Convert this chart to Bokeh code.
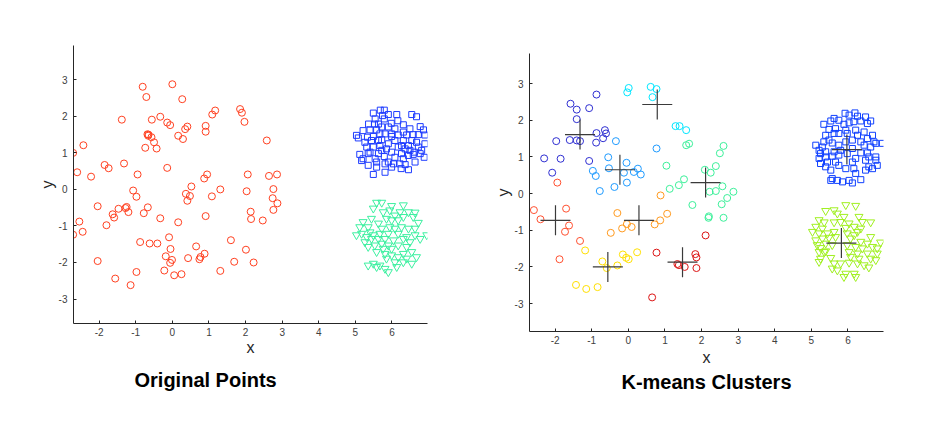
from bokeh.plotting import figure
from bokeh.layouts import row, column
from bokeh.models import Range1d, FixedTicker, Title, Spacer
from bokeh.embed import file_html
from bokeh.resources import INLINE

x_ticks = [-2, -1, 0, 1, 2, 3, 4, 5, 6]
x_tick_labels = ["-2", "-1", "0", "1", "2", "3", "4", "5", "6"]
y_ticks = [-3, -2, -1, 0, 1, 2, 3]
y_tick_labels = ["-3", "-2", "-1", "0", "1", "2", "3"]

# ---------------- left panel: original points ----------------
left_circles = [
    (0.0, 2.88), (-0.81, 2.81), (-0.71, 2.53), (0.27, 2.47), (-1.38, 1.91), (-0.56, 1.91),
    (-0.33, 1.99), (-0.14, 1.83), (-0.06, 1.76), (1.17, 2.16), (1.09, 2.05), (1.85, 2.2),
    (1.9, 2.1), (1.97, 1.85), (0.91, 1.74), (0.91, 1.58), (0.41, 1.72), (0.35, 1.65),
    (0.16, 1.47), (0.29, 1.38), (-0.68, 1.51), (-0.66, 1.47), (-0.65, 1.5), (-0.57, 1.43),
    (-0.5, 1.29), (-0.74, 1.14), (-0.43, 1.12), (2.58, 1.34), (-2.43, 1.21), (-2.71, 1.0),
    (-2.6, 0.47), (-2.22, 0.35), (-1.85, 0.67), (-1.74, 0.58), (-1.32, 0.71), (-0.95, 0.41),
    (-0.14, 0.59), (-1.07, -0.03), (-0.98, -0.2), (0.52, 0.08), (0.37, -0.12), (0.48, -0.18),
    (0.41, -0.31), (0.95, 0.41), (0.87, 0.3), (1.08, -0.19), (1.31, 0.0), (2.06, 0.41),
    (2.03, -0.05), (2.64, 0.37), (2.86, 0.41), (2.76, 0.01), (2.74, -0.24), (2.87, -0.38),
    (2.76, -0.56), (2.47, -0.85), (2.14, -0.61), (2.15, -0.81), (0.91, -0.73), (0.16, -0.9),
    (-0.33, -0.79), (-0.67, -0.49), (-0.78, -0.65), (-1.25, -0.48), (-1.28, -0.51), (-1.2, -0.62),
    (-1.47, -0.53), (-1.63, -0.68), (-1.59, -0.77), (-2.04, -0.46), (-2.54, -0.88), (-2.45, -1.16),
    (-2.71, -1.24), (-1.8, -0.98), (-0.88, -1.44), (-0.62, -1.48), (-0.41, -1.48), (-0.09, -1.31),
    (-0.05, -1.63), (0.65, -1.56), (1.6, -1.39), (2.01, -1.65), (-0.18, -1.83), (-0.01, -1.93),
    (-0.06, -2.01), (0.43, -1.88), (0.74, -1.91), (0.77, -1.85), (0.88, -1.76), (1.69, -1.98),
    (2.22, -2.0), (-2.04, -1.96), (-0.22, -2.22), (0.05, -2.35), (0.25, -2.32), (1.31, -2.23),
    (-0.98, -2.26), (-1.56, -2.44), (-1.14, -2.62),
]

left_squares = [
    (5.49, 2.09), (5.68, 2.17), (5.79, 2.17), (5.74, 2.02), (5.9, 2.05), (6.13, 2.05), (6.54, 2.05),
    (6.67, 1.99), (5.54, 1.93), (5.52, 1.79), (5.63, 1.79), (5.36, 1.79), (5.79, 1.93), (5.98, 1.81),
    (6.16, 1.88), (6.31, 1.77), (6.77, 1.72), (6.86, 1.63), (6.72, 1.5), (6.9, 1.49), (6.58, 1.5),
    (6.4, 1.49), (6.17, 1.49), (5.99, 1.52), (5.9, 1.71), (5.72, 1.71), (5.58, 1.63), (5.4, 1.63),
    (5.03, 1.48), (5.08, 1.41), (5.33, 1.43), (5.49, 1.45), (5.63, 1.34), (5.72, 1.36), (5.99, 1.45),
    (6.31, 1.34), (6.54, 1.34), (6.67, 1.29), (6.9, 1.25), (6.81, 1.07), (6.61, 1.02), (6.36, 1.11),
    (6.17, 1.16), (5.9, 1.25), (5.67, 1.2), (5.49, 1.16), (5.31, 1.16), (5.4, 1.02), (5.12, 0.96),
    (5.21, 0.84), (5.17, 0.79), (5.63, 0.98), (5.54, 0.84), (5.79, 0.9), (5.9, 0.75), (6.08, 0.88),
    (6.31, 0.84), (6.45, 0.93), (6.58, 0.96), (6.77, 0.98), (6.63, 0.75), (6.36, 0.68), (6.22, 0.7),
    (6.04, 0.7), (5.81, 0.7), (5.58, 0.75), (5.35, 0.66), (6.45, 0.54), (6.25, 0.57), (5.49, 0.41),
    (5.81, 0.47), (6.88, 0.88), (5.44, 1.34), (5.81, 1.52), (6.08, 1.34), (6.45, 1.2), (5.35, 0.98),
    (5.72, 1.07), (5.99, 1.02), (6.26, 0.98), (6.49, 1.07), (6.72, 1.16), (6.08, 1.66), (6.31, 1.57),
    (6.49, 1.66), (5.67, 1.52), (5.26, 1.29), (5.21, 1.61), (5.85, 1.11), (6.26, 1.2), (5.58, 0.61),
    (5.99, 0.61),
]

left_triangles = [
    (5.58, -0.36), (5.72, -0.36), (5.99, -0.45), (6.31, -0.43), (5.49, -0.52), (5.76, -0.62),
    (5.94, -0.57), (6.22, -0.62), (6.45, -0.62), (6.63, -0.63), (6.08, -0.71), (6.31, -0.75),
    (6.58, -0.75), (5.44, -0.8), (5.21, -0.89), (5.63, -0.93), (5.99, -0.84), (6.17, -0.84),
    (6.72, -0.91), (5.12, -1.03), (5.35, -1.03), (5.72, -1.07), (5.94, -1.03), (6.63, -1.07),
    (5.03, -1.25), (5.31, -1.3), (5.49, -1.25), (5.67, -1.21), (5.9, -1.21), (6.17, -1.21),
    (6.4, -1.3), (6.63, -1.25), (6.95, -1.25), (6.77, -1.35), (5.26, -1.44), (5.44, -1.35),
    (5.63, -1.35), (5.81, -1.35), (6.04, -1.39), (6.31, -1.35), (6.49, -1.44), (5.35, -1.57),
    (5.53, -1.53), (5.72, -1.48), (5.9, -1.53), (6.17, -1.53), (6.4, -1.57), (5.99, -1.62),
    (5.76, -1.62), (6.31, -1.76), (6.54, -1.71), (5.99, -1.8), (6.17, -1.85), (6.4, -1.89),
    (6.67, -1.85), (5.85, -1.89), (6.08, -1.99), (6.31, -1.99), (6.54, -2.03), (5.49, -2.03),
    (5.67, -2.08), (5.35, -2.08), (5.81, -2.17), (5.9, -2.26), (6.13, -2.12), (5.58, -2.12),
    (5.17, -1.21), (6.08, -1.07), (5.81, -1.76), (5.58, -1.71), (6.45, -1.07), (6.26, -1.03),
    (5.4, -1.17), (5.85, -0.8),
]

# ---------------- right panel: k-means clusters ----------------
cluster_indigo = [
    (-0.87, 2.7), (-1.58, 2.45), (-1.41, 2.29), (-1.07, 2.33), (-1.41, 2.03), (-1.97, 1.43),
    (-1.6, 1.46), (-1.41, 1.45), (-1.32, 1.43), (-0.87, 1.65), (-0.64, 1.73), (-0.61, 1.64),
    (-0.69, 1.51), (-0.88, 1.39), (-2.3, 0.96), (-1.85, 0.95), (-1.07, 0.89), (-2.08, 0.57),
]
cluster_lightblue = [
    (-0.34, 1.43), (-0.55, 0.99), (-0.05, 0.84), (-0.53, 0.69), (-0.97, 0.62), (-0.89, 0.48),
    (-0.12, 0.57), (0.15, 0.59), (0.26, 0.68), (0.34, 0.52), (-0.78, 0.07), (-0.38, 0.18),
    (-0.04, 0.3), (0.77, 1.23),
]
cluster_cyan = [
    (0.01, 2.88), (-0.03, 2.76), (0.61, 2.91), (0.77, 2.85), (0.66, 2.63), (1.29, 1.84),
    (1.4, 1.84), (1.58, 1.73),
]
cluster_mint = [
    (1.58, 1.32), (1.66, 1.36), (2.6, 1.3), (2.5, 1.1), (1.04, 0.76), (2.09, 0.65), (2.25, 0.57),
    (2.39, 0.75), (1.52, 0.39), (1.38, 0.23), (1.13, 0.13), (2.57, 0.2), (2.22, 0.05), (2.39, 0.07),
    (2.87, 0.05), (2.7, -0.12), (2.55, -0.29), (1.75, -0.31), (2.2, -0.62), (2.19, -0.66),
    (2.6, -0.66),
]
cluster_orange = [
    (0.88, -0.05), (1.06, -0.55), (0.87, -0.73), (0.72, -0.84), (0.09, -0.91), (-0.04, -0.83),
    (-0.17, -0.95), (-0.48, -1.07), (-0.3, -0.53),
]
cluster_yellow = [
    (-1.18, -1.55), (-0.71, -1.85), (-0.59, -2.03), (-0.3, -1.96), (-0.15, -1.66), (-0.06, -1.75),
    (0.01, -1.79), (0.24, -1.6), (-1.43, -2.49), (-1.15, -2.6), (-0.84, -2.55),
]
cluster_tomato = [
    (-1.94, 0.3), (-2.58, -0.45), (-2.4, -0.7), (-1.7, -0.41), (-1.62, -0.87), (-1.73, -1.04),
    (-1.32, -1.29), (-1.88, -1.79),
]
cluster_red = [
    (2.11, -1.14), (0.77, -1.61), (1.34, -1.92), (1.38, -1.95), (1.54, -2.0), (1.83, -1.65),
    (1.86, -1.74), (1.86, -2.03), (0.65, -2.83),
]
cluster_squares = [
    (5.92, 2.19), (6.03, 2.14), (6.19, 2.2), (6.26, 2.11), (6.48, 2.09), (5.62, 2.05), (5.75, 2.0),
    (5.53, 1.98), (5.34, 1.89), (5.48, 1.75), (5.66, 1.77), (5.89, 1.89), (6.03, 1.93), (6.16, 1.96),
    (6.35, 1.98), (6.53, 1.91), (6.62, 1.98), (5.94, 1.73), (6.21, 1.73), (5.98, 1.64), (5.39, 1.59),
    (5.62, 1.64), (5.75, 1.64), (6.44, 1.68), (6.67, 1.59), (6.53, 1.5), (6.71, 1.41), (6.94, 1.37),
    (6.76, 1.37), (5.12, 1.32), (5.34, 1.41), (5.3, 1.27), (5.57, 1.38), (5.75, 1.32), (6.12, 1.46),
    (6.35, 1.41), (6.44, 1.32), (5.21, 1.18), (5.39, 1.14), (5.62, 1.14), (5.8, 1.18), (6.12, 1.23),
    (6.35, 1.11), (6.53, 1.11), (5.21, 0.96), (5.39, 1.0), (5.57, 1.02), (5.75, 1.05), (5.98, 1.09),
    (6.21, 0.96), (6.57, 1.0), (6.76, 1.0), (5.25, 0.82), (5.44, 0.86), (5.66, 0.86), (6.12, 0.86),
    (6.48, 0.91), (6.76, 0.91), (5.39, 0.73), (5.53, 0.64), (5.75, 0.77), (5.94, 0.68), (6.16, 0.68),
    (6.57, 0.73), (6.67, 0.68), (6.48, 0.64), (5.57, 0.41), (5.71, 0.36), (5.85, 0.32), (6.03, 0.36),
    (6.12, 0.29), (6.21, 0.55), (6.35, 0.38), (5.53, 0.36), (6.8, 0.77), (5.25, 1.09), (5.94, 1.41),
    (6.26, 1.59), (5.48, 1.46), (6.62, 1.27),
]
cluster_triangles = [
    (5.94, -0.31), (6.21, -0.33), (5.39, -0.47), (5.62, -0.45), (5.71, -0.54), (5.89, -0.63),
    (6.3, -0.63), (5.21, -0.72), (5.35, -0.78), (5.62, -0.78), (6.03, -0.81), (6.39, -0.77),
    (6.62, -0.78), (5.12, -0.9), (5.3, -0.95), (5.94, -0.93), (6.17, -0.9), (6.35, -0.95),
    (5.03, -1.04), (5.21, -1.08), (5.44, -1.08), (5.62, -1.04), (5.98, -1.08), (6.26, -1.04),
    (6.62, -1.18), (5.12, -1.27), (5.3, -1.22), (5.48, -1.2), (5.66, -1.18), (6.07, -1.22),
    (6.35, -1.31), (6.53, -1.36), (6.89, -1.33), (5.16, -1.4), (5.25, -1.48), (5.39, -1.36),
    (5.57, -1.4), (5.98, -1.4), (6.21, -1.45), (6.39, -1.49), (6.67, -1.45), (6.8, -1.49),
    (5.21, -1.59), (5.39, -1.57), (6.03, -1.59), (6.26, -1.63), (6.53, -1.63), (6.8, -1.63),
    (5.25, -1.77), (5.53, -1.75), (6.07, -1.72), (6.3, -1.77), (6.62, -1.77), (6.76, -1.81),
    (5.62, -1.9), (5.8, -1.9), (6.03, -1.88), (6.26, -1.9), (6.44, -1.95), (6.57, -2.01),
    (5.57, -2.04), (5.71, -2.09), (5.94, -2.18), (6.17, -2.18), (5.89, -2.27), (6.21, -2.27),
    (5.35, -1.59), (5.21, -1.86), (6.17, -1.13), (5.8, -0.77),
]

circle_clusters = [
    (cluster_indigo, "#2e2ed2"),
    (cluster_lightblue, "#1e9bff"),
    (cluster_cyan, "#00e6ff"),
    (cluster_mint, "#3cf09a"),
    (cluster_orange, "#ff9a1e"),
    (cluster_yellow, "#ffe000"),
    (cluster_tomato, "#ff5030"),
    (cluster_red, "#dc1414"),
]

centroids = [
    (-1.32, 1.61), (0.79, 2.43), (-0.23, 0.65), (2.11, 0.3), (-1.99, -0.73),
    (0.29, -0.73), (-0.56, -2.0), (1.48, -1.87), (5.97, 1.2), (5.82, -1.35),
]

AX = "#262626"
LBL = "#404040"
FONT = "Liberation Sans"


def unzip(pts):
    return [p[0] for p in pts], [p[1] for p in pts]


def make_fig(x_rng, y_rng, b_left, b_top, b_right, b_bottom, title, align, offset,
             label_standoff, title_standoff):
    p = figure(frame_width=354, frame_height=278,
               x_range=Range1d(*x_rng), y_range=Range1d(*y_rng),
               output_backend="svg", toolbar_location=None, title=None,
               min_border_left=b_left, min_border_top=b_top,
               min_border_right=b_right, min_border_bottom=b_bottom)
    p.outline_line_color = None
    p.xgrid.visible = False
    p.ygrid.visible = False
    p.background_fill_color = "white"
    p.border_fill_color = "white"
    p.xaxis.ticker = FixedTicker(ticks=x_ticks)
    p.yaxis.ticker = FixedTicker(ticks=y_ticks)
    p.xaxis.major_label_overrides = {t: s for t, s in zip(x_ticks, x_tick_labels)}
    p.yaxis.major_label_overrides = {t: s for t, s in zip(y_ticks, y_tick_labels)}
    p.xaxis.axis_label = "x"
    p.yaxis.axis_label = "y"
    for ax in (p.xaxis[0], p.yaxis[0]):
        ax.major_tick_in = 3
        ax.major_tick_out = 0
        ax.minor_tick_line_color = None
        ax.axis_line_color = AX
        ax.major_tick_line_color = AX
        ax.major_label_text_font = FONT
        ax.major_label_text_font_size = "10px"
        ax.major_label_text_color = LBL
        ax.axis_label_text_font = FONT
        ax.axis_label_text_font_size = "16px"
        ax.axis_label_text_font_style = "normal"
        ax.axis_label_text_color = AX
        ax.axis_label_standoff = 0
    p.xaxis.axis_label_standoff = label_standoff
    p.xaxis.major_label_standoff = 4
    p.yaxis.major_label_standoff = 6
    t = Title(text=title, align=align, text_font=FONT, text_font_size="20px",
              text_font_style="bold", text_color="black", offset=offset, standoff=title_standoff)
    p.add_layout(t, "below")
    return p


left = make_fig((-2.7, 6.97), (-3.67, 3.94), 73, 45, 37, 95,
                "Original Points", "left", 61, 0, 16)
cx, cy = unzip(left_circles)
left.scatter(cx, cy, marker="circle", size=7, fill_color=None, line_color="#ff4020", line_width=1)
sx, sy = unzip(left_squares)
left.scatter(sx, sy, marker="square", size=6, fill_color=None, line_color="#1e3cff", line_width=1)
tx, ty = unzip(left_triangles)
left.scatter(tx, ty, marker="inverted_triangle", size=8, fill_color=None, line_color="#3cf0a0", line_width=1)

right = make_fig((-2.7, 6.97), (-3.76, 3.82), 65, 45, 20, 60,
                 "K-means Clusters", "center", 0, 2, 0)
for pts, col in circle_clusters:
    xs, ys = unzip(pts)
    right.scatter(xs, ys, marker="circle", size=7, fill_color=None, line_color=col, line_width=1)
sx, sy = unzip(cluster_squares)
right.scatter(sx, sy, marker="square", size=6, fill_color=None, line_color="#1040ff", line_width=1)
tx, ty = unzip(cluster_triangles)
right.scatter(tx, ty, marker="inverted_triangle", size=8, fill_color=None, line_color="#a0f020", line_width=1)
mx, my = unzip(centroids)
right.scatter(mx, my, marker="cross", size=30, line_color="#3a3a3a", line_width=1.2)

layout = row(left, column(Spacer(width=10, height=8), right))
open("out.html", "w").write(file_html(layout, INLINE))
